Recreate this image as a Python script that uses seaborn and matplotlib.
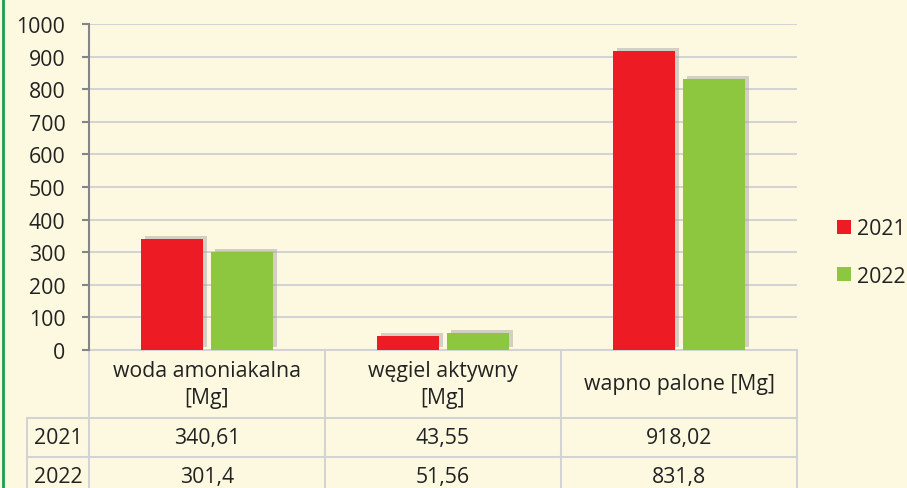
import matplotlib.pyplot as plt
import matplotlib.patheffects as pe
from matplotlib.patches import Patch
from matplotlib.lines import Line2D
import matplotlib.transforms as mtransforms
import pandas as pd
import seaborn as sns

# chart data
categories = ["woda amoniakalna\n[Mg]", "węgiel aktywny\n[Mg]", "wapno palone [Mg]"]
years = ["2021", "2022"]
values_2021 = [340.61, 43.55, 918.02]
values_2022 = [301.4, 51.56, 831.8]
labels_2021 = ["340,61", "43,55", "918,02"]
labels_2022 = ["301,4", "51,56", "831,8"]
y_ticks = [0, 100, 200, 300, 400, 500, 600, 700, 800, 900, 1000]

bg = "#FDF9E1"
red = "#ED1C24"
green = "#8DC63F"
grid_col = "#D3D3D3"
fs = 15.3

sns.set_theme(style="white")
plt.rcParams["font.family"] = ["Open Sans", "DejaVu Sans"]

df = pd.DataFrame({
    "cat": categories * 2,
    "year": [years[0]] * 3 + [years[1]] * 3,
    "value": values_2021 + values_2022,
})

fig = plt.figure(figsize=(9.07, 4.89), dpi=100, facecolor=bg)
ax = fig.add_axes([89 / 907, 1 - 351 / 489, 708 / 907, 326 / 489])
ax.set_facecolor(bg)

sns.barplot(data=df, x="cat", y="value", hue="year", palette=[red, green],
            width=0.593, gap=0.114, saturation=1, ax=ax, legend=False,
            errorbar=None, zorder=3)
for p in ax.patches:
    p.set_linewidth(0)
    p.set_path_effects([pe.SimplePatchShadow(offset=(3, 2), shadow_rgbFace="#a0a0a0", alpha=0.45),
                        pe.Normal()])

ax.set_xlim(-0.5, 2.5)
ax.set_ylim(0, 1000)
ax.set_yticks(y_ticks)
ax.yaxis.grid(True, color=grid_col, linewidth=1.5, zorder=0)
ax.set_axisbelow(True)
ax.tick_params(axis="y", which="major", length=5, width=1.5, color="#858585",
               direction="out", pad=12, labelsize=fs, labelcolor="#222222", left=True)
ax.tick_params(axis="x", bottom=False, labelbottom=False)
ax.set_xlabel("")
ax.set_ylabel("")
for s in ["top", "right", "bottom"]:
    ax.spines[s].set_visible(False)
ax.spines["left"].set_color("#858585")
ax.spines["left"].set_linewidth(1.5)

# data table under the plot
tr = mtransforms.blended_transform_factory(ax.transData, ax.transAxes)
h_bot = -68 / 326
r1_bot = -107 / 326
r2_bot = -146 / 326
lab_left = -62 / 708
lkw = dict(color=grid_col, linewidth=1.5, clip_on=False, zorder=1)
ax.plot([0, 1], [0, 0], transform=ax.transAxes, **lkw)
ax.plot([lab_left, 1], [h_bot, h_bot], transform=ax.transAxes, **lkw)
ax.plot([lab_left, 1], [r1_bot, r1_bot], transform=ax.transAxes, **lkw)
ax.plot([lab_left, lab_left], [h_bot, r2_bot], transform=ax.transAxes, **lkw)
for xb in [-0.5, 0.5, 1.5, 2.5]:
    ax.plot([xb, xb], [0, r2_bot], transform=tr, **lkw)

tkw = dict(ha="center", va="center", fontsize=fs, color="#222222", clip_on=False)
for i, c in enumerate(categories):
    ax.text(i, h_bot / 2, c, transform=tr, linespacing=1.35, **tkw)
    ax.text(i, (h_bot + r1_bot) / 2, labels_2021[i], transform=tr, **tkw)
    ax.text(i, (r1_bot + r2_bot) / 2, labels_2022[i], transform=tr, **tkw)
ax.text(lab_left / 2, (h_bot + r1_bot) / 2, years[0], transform=ax.transAxes, **tkw)
ax.text(lab_left / 2, (r1_bot + r2_bot) / 2, years[1], transform=ax.transAxes, **tkw)

# legend
handles = [Patch(facecolor=red, edgecolor="none"), Patch(facecolor=green, edgecolor="none")]
fig.legend(handles, years, loc="center left", bbox_to_anchor=(837 / 907, 1 - 253.5 / 489),
           frameon=False, fontsize=fs, handlelength=0.66, handleheight=0.66,
           handletextpad=0.3, labelspacing=1.25, borderpad=0, borderaxespad=0,
           labelcolor="#222222")

# green frame edge on the left
fig.add_artist(Line2D([3 / 907, 3 / 907], [0, 1], transform=fig.transFigure,
                      color="#1BA050", linewidth=2))

fig.savefig("out.png", dpi=100, facecolor=bg)
